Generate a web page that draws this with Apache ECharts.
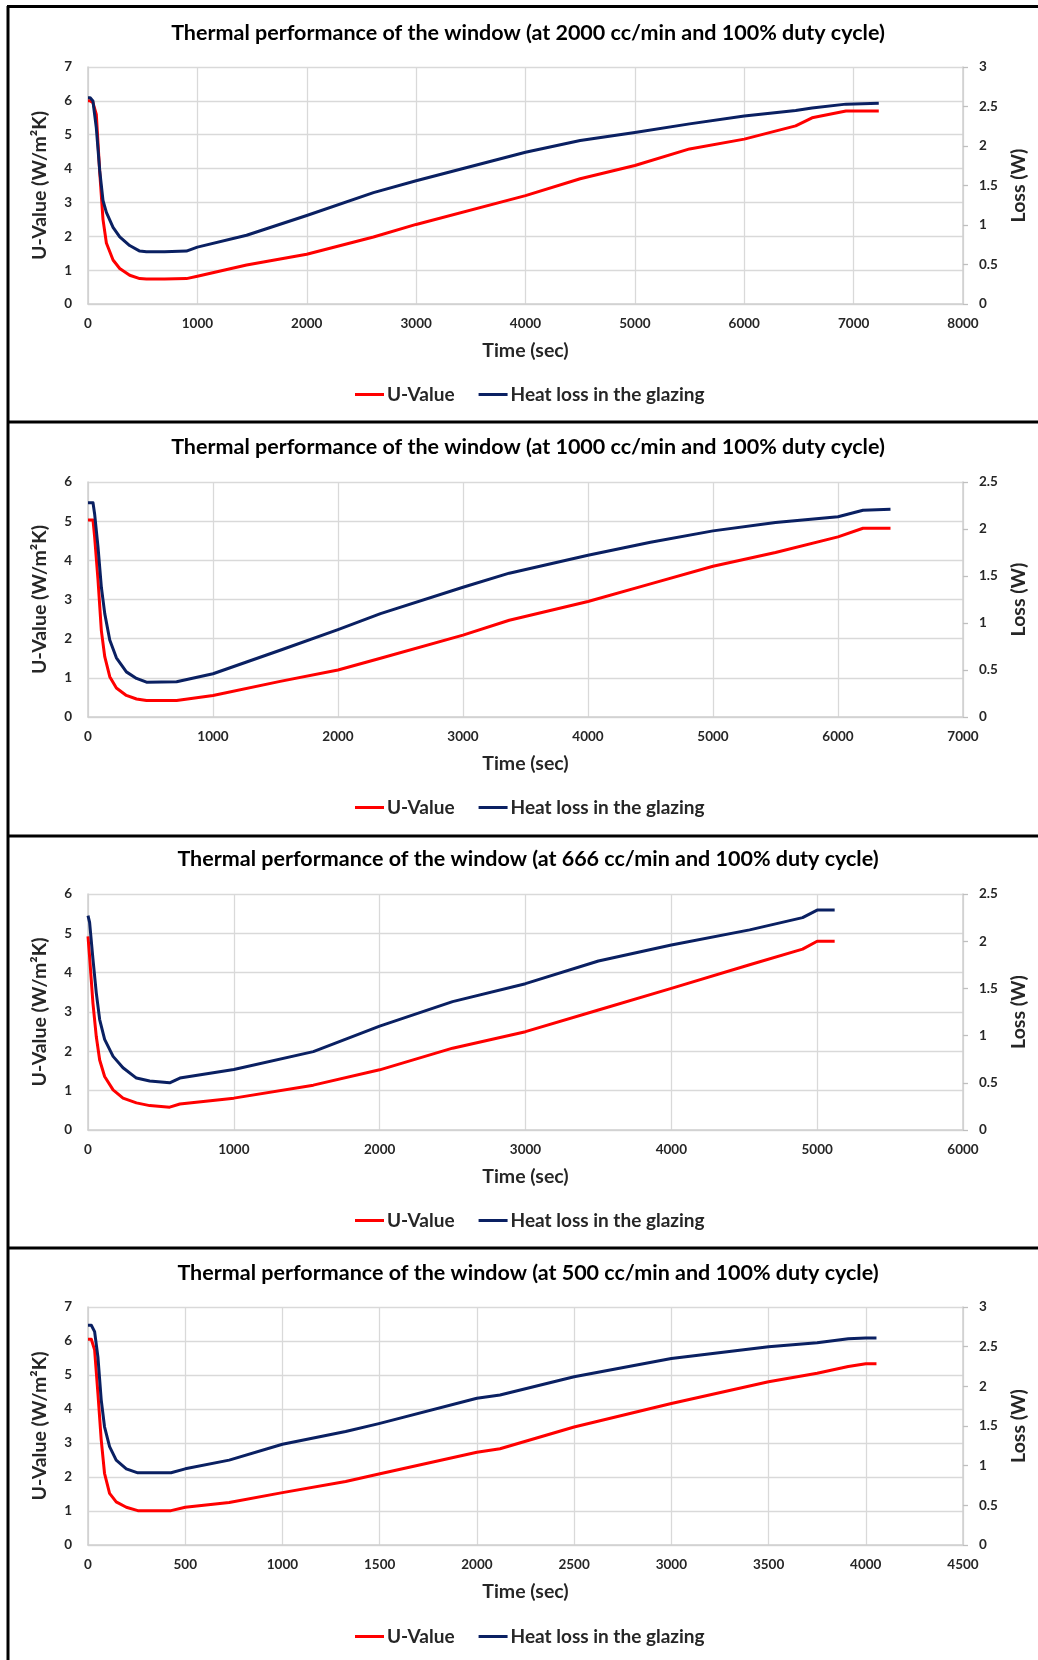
<!DOCTYPE html>
<html><head><meta charset="utf-8">
<script src="https://cdn.jsdelivr.net/npm/echarts@6/dist/echarts.min.js"></script>
<style>html,body{margin:0;padding:0;background:#fff}#c{width:1038px;height:1660px}</style>
</head><body><div id="c"></div>
<script>
// ---- chart data ----
const titles = [
  'Thermal performance of the window (at 2000 cc/min and 100% duty cycle)',
  'Thermal performance of the window (at 1000 cc/min and 100% duty cycle)',
  'Thermal performance of the window (at 666 cc/min and 100% duty cycle)',
  'Thermal performance of the window (at 500 cc/min and 100% duty cycle)'
];
const xMaxes = [8000, 7000, 6000, 4500];
const xIntervals = [1000, 1000, 1000, 500];
const leftMaxes = [7, 6, 6, 7];
const rightMaxes = [3, 2.5, 2.5, 3];
const seriesNames = ['U-Value', 'Heat loss in the glazing'];

// 2000 cc/min
const t2000 = [0, 20, 45, 76, 107, 137, 168, 229, 290, 381, 473, 534, 700, 900, 1000, 1450, 2000, 2610, 3000, 4000, 4500, 5000, 5500, 6000, 6470, 6620, 6930, 7230];
const u2000 = [6.0, 6.0, 5.95, 5.6, 3.9, 2.5, 1.8, 1.3, 1.05, 0.85, 0.75, 0.74, 0.74, 0.75, 0.82, 1.15, 1.47, 1.98, 2.35, 3.2, 3.7, 4.09, 4.58, 4.87, 5.26, 5.5, 5.7, 5.7];
const h2000 = [2.61, 2.61, 2.57, 2.23, 1.69, 1.31, 1.16, 0.97, 0.85, 0.74, 0.67, 0.66, 0.66, 0.67, 0.72, 0.87, 1.12, 1.41, 1.56, 1.92, 2.07, 2.17, 2.28, 2.38, 2.45, 2.48, 2.53, 2.54];
// 1000 cc/min
const t1000 = [0, 40, 53, 80, 107, 134, 174, 227, 307, 388, 468, 709, 1000, 1537, 2000, 2340, 3000, 3370, 4000, 4500, 5000, 5500, 6000, 6200, 6420];
const u1000 = [5.03, 5.03, 4.6, 3.5, 2.2, 1.54, 1.03, 0.74, 0.55, 0.46, 0.42, 0.42, 0.55, 0.91, 1.2, 1.5, 2.09, 2.47, 2.95, 3.4, 3.85, 4.2, 4.6, 4.82, 4.82];
const h1000 = [2.28, 2.28, 2.16, 1.81, 1.38, 1.10, 0.82, 0.63, 0.48, 0.41, 0.37, 0.375, 0.46, 0.71, 0.93, 1.10, 1.38, 1.53, 1.72, 1.86, 1.98, 2.07, 2.13, 2.2, 2.21];
// 666 cc/min
const t666 = [0, 11, 34, 57, 80, 114, 172, 240, 332, 423, 560, 630, 1000, 1545, 2000, 2500, 3000, 3500, 4000, 4537, 4900, 5000, 5120];
const u666 = [4.92, 4.4, 3.22, 2.37, 1.78, 1.36, 1.02, 0.81, 0.69, 0.62, 0.58, 0.66, 0.81, 1.14, 1.53, 2.08, 2.5, 3.05, 3.6, 4.2, 4.6, 4.8, 4.8];
const h666 = [2.27, 2.20, 1.81, 1.45, 1.17, 0.96, 0.78, 0.66, 0.55, 0.52, 0.50, 0.55, 0.64, 0.83, 1.10, 1.36, 1.55, 1.79, 1.96, 2.12, 2.25, 2.33, 2.33];
// 500 cc/min
const t500 = [0, 17, 34, 51, 68, 85, 111, 145, 197, 256, 427, 500, 726, 1000, 1325, 1496, 2000, 2119, 2500, 3000, 3500, 3750, 3910, 4000, 4055];
const u500 = [6.05, 6.05, 5.74, 4.46, 3.09, 2.11, 1.52, 1.27, 1.11, 1.01, 1.01, 1.11, 1.25, 1.54, 1.87, 2.09, 2.73, 2.83, 3.47, 4.16, 4.8, 5.05, 5.25, 5.33, 5.33];
const h500 = [2.77, 2.77, 2.69, 2.37, 1.83, 1.49, 1.24, 1.07, 0.96, 0.91, 0.91, 0.96, 1.07, 1.27, 1.43, 1.53, 1.85, 1.89, 2.12, 2.35, 2.50, 2.55, 2.6, 2.61, 2.61];

const times = [t2000, t1000, t666, t500];
const uVals = [u2000, u1000, u666, u500];
const hVals = [h2000, h1000, h666, h500];

// ---- layout ----
const FONT = 'Lato';
const gridTops = [67, 482, 894, 1307];
const gridHeights = [237, 235, 236, 238];
const titleCenters = [35, 449, 861, 1275];
const legendCenters = [397, 810, 1223, 1639];
const dividers = [422, 836, 1248];
const RED = '#ff0000', NAVY = '#0a2062';
const GRIDC = '#d9d9d9', AXISC = '#cfcfcf', TXT = '#262626';

const option = {
  animation: false,
  backgroundColor: '#fff',
  title: [], legend: [], grid: [], xAxis: [], yAxis: [], series: [],
  graphic: []
};

for (let i = 0; i < 4; i++) {
  option.title.push({
    text: titles[i], left: 528, top: titleCenters[i] - 13, textAlign: 'center', padding: 0,
    textStyle: {fontFamily: FONT, fontWeight: 'bold', fontSize: 21.5, color: '#000'}
  });
  option.grid.push({left: 88, right: 75, top: gridTops[i], height: gridHeights[i], outerBoundsMode: 'none', containLabel: false});
  option.legend.push({
    data: seriesNames, left: 355, top: legendCenters[i] - 12, padding: 0,
    icon: 'rect', itemWidth: 29, itemHeight: 3, itemGap: 24,
    selectedMode: false,
    textStyle: {fontFamily: FONT, fontWeight: 'bold', fontSize: 19, color: TXT, padding: [0, 0, 0, -2]}
  });
  option.xAxis.push({
    type: 'value', gridIndex: i, min: 0, max: xMaxes[i], interval: xIntervals[i],
    name: 'Time (sec)', nameLocation: 'middle', nameGap: 37,
    nameTextStyle: {fontFamily: FONT, fontWeight: 'bold', fontSize: 19.5, color: TXT},
    axisLine: {show: true, lineStyle: {color: AXISC, width: 1.5}},
    axisTick: {show: false},
    axisLabel: {fontFamily: FONT, fontWeight: 'bold', fontSize: 13.5, color: TXT, margin: 13,
      formatter: v => String(v)},
    splitLine: {show: true, lineStyle: {color: GRIDC, width: 1.3}}
  });
  option.yAxis.push({
    type: 'value', gridIndex: i, position: 'left', min: 0, max: leftMaxes[i], interval: 1,
    name: 'U-Value (W/m\u00b2K)', nameLocation: 'middle', nameGap: 38, nameRotate: 90,
    nameTextStyle: {fontFamily: FONT, fontWeight: 'bold', fontSize: 19.5, color: TXT},
    axisLine: {show: true, lineStyle: {color: AXISC, width: 1.5}},
    axisTick: {show: false},
    axisLabel: {fontFamily: FONT, fontWeight: 'bold', fontSize: 13.5, color: TXT, margin: 16},
    splitLine: {show: true, lineStyle: {color: GRIDC, width: 1.3}}
  });
  option.yAxis.push({
    type: 'value', gridIndex: i, position: 'right', min: 0, max: rightMaxes[i], interval: 0.5,
    name: 'Loss (W)', nameLocation: 'middle', nameGap: 41, nameRotate: 90,
    nameTextStyle: {fontFamily: FONT, fontWeight: 'bold', fontSize: 19.5, color: TXT},
    axisLine: {show: true, lineStyle: {color: AXISC, width: 1.5}},
    axisTick: {show: true, inside: false, length: 5, lineStyle: {color: '#bfbfbf', width: 1.3}},
    axisLabel: {fontFamily: FONT, fontWeight: 'bold', fontSize: 13.5, color: TXT, margin: 16},
    splitLine: {show: false}
  });
  const t = times[i];
  option.series.push({
    name: seriesNames[0], type: 'line', xAxisIndex: i, yAxisIndex: 2 * i,
    data: t.map((x, k) => [x, uVals[i][k]]),
    showSymbol: false, smooth: false, z: 3,
    lineStyle: {color: RED, width: 3, join: 'round'}, itemStyle: {color: RED}
  });
  option.series.push({
    name: seriesNames[1], type: 'line', xAxisIndex: i, yAxisIndex: 2 * i + 1,
    data: t.map((x, k) => [x, hVals[i][k]]),
    showSymbol: false, smooth: false, z: 4,
    lineStyle: {color: NAVY, width: 3, join: 'round'}, itemStyle: {color: NAVY}
  });
}

// frame lines
const frameStyle = {stroke: '#000', lineWidth: 3};
option.graphic.push({type: 'line', shape: {x1: 8, y1: 6, x2: 8, y2: 1660}, style: frameStyle, silent: true});
option.graphic.push({type: 'line', shape: {x1: 7, y1: 6.5, x2: 1038, y2: 6.5}, style: frameStyle, silent: true});
dividers.forEach(y => option.graphic.push({type: 'line', shape: {x1: 7, y1: y, x2: 1038, y2: y}, style: frameStyle, silent: true}));

const chart = echarts.init(document.getElementById('c'), null, {renderer: 'canvas'});
chart.setOption(option);
</script></body></html>
